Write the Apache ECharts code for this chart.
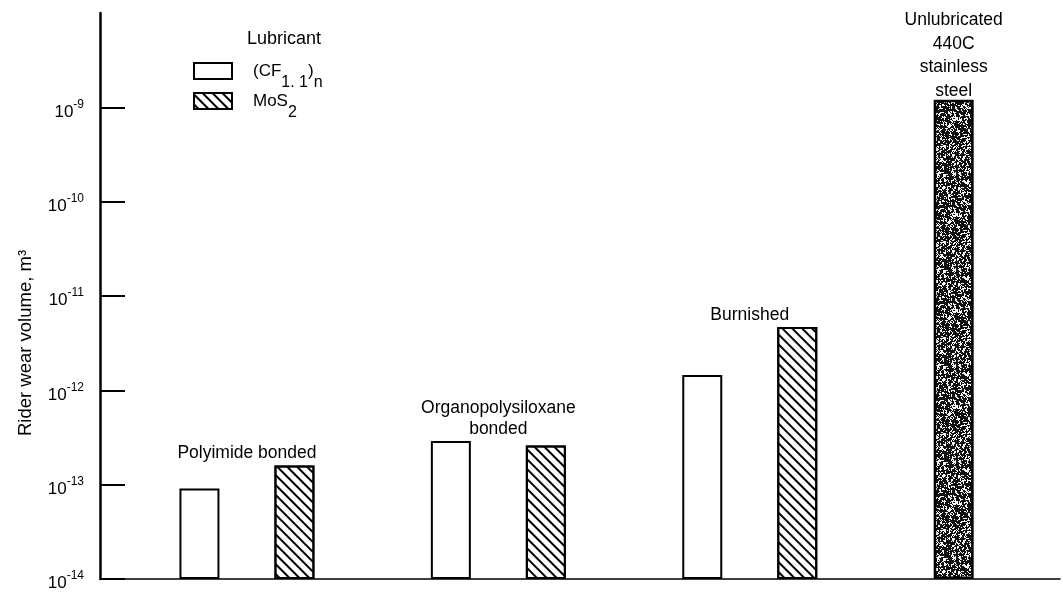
<!DOCTYPE html>
<html>
<head>
<meta charset="utf-8">
<script src="https://cdn.jsdelivr.net/npm/echarts@6/dist/echarts.min.js"></script>
<style>html,body{margin:0;padding:0;background:#fff}#c{width:1063px;height:592px}</style>
</head>
<body>
<div id="c"></div>
<script>
// ---- data ----
const categories = ['Polyimide bonded', 'Organopolysiloxane\nbonded', 'Burnished', 'Unlubricated\n440C\nstainless\nsteel'];
const cfValues = [9.1e-14, 2.9e-13, 1.45e-12, 1.2e-9];   // (CF1.1)n ; last = unlubricated 440C
const mos2Values = [1.6e-13, 2.6e-13, 4.7e-12, null];  // MoS2
const yTickValues = [1e-14, 1e-13, 1e-12, 1e-11, 1e-10, 1e-9];
const seriesNames = ['(CF1.1)n', 'MoS2'];
const unlubricatedIndex = 3;

// ---- styles ----
const FONT = 'Liberation Sans';
const BAR_W = 40;
const GAP_PX = 55;

function speckle() {
  const N = 96;
  const cv = document.createElement('canvas');
  cv.width = N; cv.height = N;
  const ctx = cv.getContext('2d');
  let s = 12345;
  const rnd = () => { s = (s * 1103515245 + 12345) & 0x7fffffff; return s / 0x7fffffff; };
  ctx.fillStyle = '#f4f4f4';
  ctx.fillRect(0, 0, N, N);
  ctx.fillStyle = '#111';
  for (let y = 0; y < N; y++) {
    for (let x = 0; x < N; x++) {
      if (rnd() < 0.45) ctx.fillRect(x, y, 1, 1);
    }
  }
  for (let k = 0; k < 1400; k++) {
    const x = Math.floor(rnd() * N), y = Math.floor(rnd() * N);
    ctx.fillRect(x, y, 2, 2);
  }
  return cv;
}

const hatch = {
  symbol: 'rect', symbolSize: 1,
  dashArrayX: [1, 0], dashArrayY: [1.6, 4.6],
  rotation: Math.PI / 4,
  color: '#000'
};

const cfData = cfValues.map((v, i) => {
  const item = { value: [i, v] };
  if (i === unlubricatedIndex) {
    item.itemStyle = { color: { image: speckle(), repeat: 'repeat' }, borderWidth: 2.5 };
  }
  return item;
});
const mosData = mos2Values.map((v, i) => v == null ? null : [i, v]).filter(d => d);

const labelData = categories.map((c, i) => {
  const top = Math.max(cfValues[i] || 0, mos2Values[i] || 0);
  const item = { value: [i, top], name: c };
  if (i === unlubricatedIndex) {
    item.label = { offset: [-(BAR_W + GAP_PX) / 2, 0], lineHeight: 23.5, distance: -3 };
  }
  return item;
});

const chart = echarts.init(document.getElementById('c'), null, { renderer: 'canvas' });
chart.setOption({
  backgroundColor: '#fff',
  animation: false,
  textStyle: { fontFamily: FONT, color: '#000' },
  title: {
    text: 'Lubricant', left: 247, top: 30, padding: 0,
    textStyle: { fontFamily: FONT, fontSize: 18, fontWeight: 'normal', color: '#000' }
  },
  legend: {
    data: seriesNames,
    orient: 'vertical', left: 193, top: 59, padding: 0,
    itemWidth: 38, itemHeight: 16, itemGap: -2,
    icon: 'rect',
    formatter: n => n === seriesNames[0]
      ? '{a|(CF}{sub|1. 1}{a|)}{sub|n}'
      : '{a|MoS}{sub|2}',
    textStyle: {
      fontFamily: FONT, color: '#000',
      rich: {
        a: { fontSize: 17, lineHeight: 24, verticalAlign: 'top', fontFamily: FONT, color: '#000', padding: [4, 0, 0, 0] },
        sub: { fontSize: 16, lineHeight: 16, verticalAlign: 'top', fontFamily: FONT, color: '#000', padding: [16, 0, 0, 0] }
      },
      padding: [0, 0, 0, 16]
    }
  },
  grid: { left: 100, right: 3, top: 13, bottom: 10, containLabel: false },
  xAxis: {
    type: 'value', min: -0.5845, max: 3.234,
    axisLine: { show: true, onZero: false, lineStyle: { color: '#000', width: 1.5 } },
    axisTick: { show: false }, axisLabel: { show: false }, splitLine: { show: false }
  },
  yAxis: {
    type: 'log', logBase: 10, min: 1e-14, max: 1e-8, interval: 1,
    startValue: 1e-14,
    axisLine: { show: true, onZero: false, lineStyle: { color: '#000', width: 2.5 } },
    axisTick: { show: true, inside: true, length: 25, lineStyle: { color: '#000', width: 2 }, customValues: yTickValues },
    splitLine: { show: false },
    axisLabel: {
      customValues: yTickValues,
      margin: 16,
      formatter: v => {
        const e = Math.round(Math.log10(v));
        if (e > -9) return '';
        return '{b|10}{s|' + e + '}';
      },
      rich: {
        b: { fontSize: 17, lineHeight: 26, verticalAlign: 'bottom', fontFamily: FONT, color: '#000', padding: [8, 0, 0, 0] },
        s: { fontSize: 12, lineHeight: 12, verticalAlign: 'top', fontFamily: FONT, color: '#000', padding: [4, 0, 0, 0] }
      }
    }
  },
  graphic: [{
    type: 'text', x: 26, y: 343, rotation: Math.PI / 2,
    style: {
      text: 'Rider wear volume, m\u00b3', fill: '#000',
      font: '18.5px "' + FONT + '"', textAlign: 'center', textVerticalAlign: 'middle'
    }
  }],
  series: [
    {
      name: seriesNames[0], type: 'bar', data: cfData,
      barWidth: BAR_W, barGap: (GAP_PX / BAR_W * 100) + '%',
      itemStyle: { color: '#fff', borderColor: '#000', borderWidth: 2 }
    },
    {
      name: seriesNames[1], type: 'bar', data: mosData,
      barWidth: BAR_W, barGap: (GAP_PX / BAR_W * 100) + '%',
      itemStyle: { color: '#fff', borderColor: '#000', borderWidth: 2, decal: hatch }
    },
    {
      name: 'labels', type: 'scatter', data: labelData,
      symbolSize: 0.1, silent: true, clip: false,
      itemStyle: { color: '#000', opacity: 1 },
      label: {
        show: true, position: 'top', distance: 1.5,
        formatter: p => p.name,
        fontFamily: FONT, fontSize: 17.5, lineHeight: 21, color: '#000', opacity: 1, align: 'center'
      },
      z: 10
    }
  ]
});
</script>
</body>
</html>
